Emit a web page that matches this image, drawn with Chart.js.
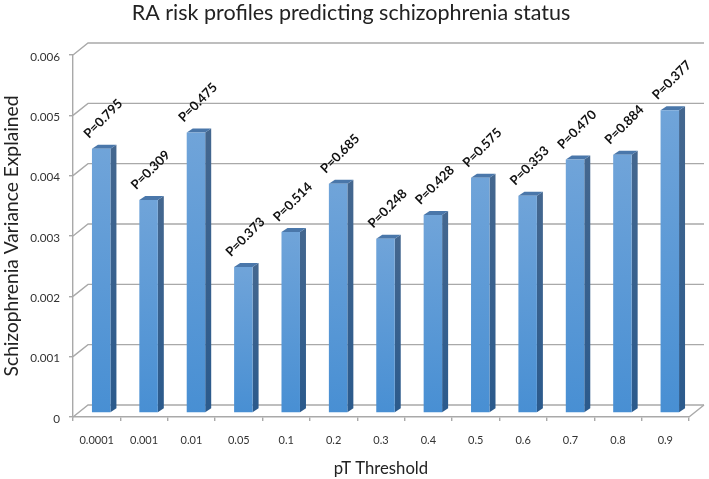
<!DOCTYPE html>
<html>
<head>
<meta charset="utf-8">
<style>
  html, body { margin: 0; padding: 0; background: #fff; }
  canvas { display: block; }
</style>
<script src="https://cdn.jsdelivr.net/npm/chart.js@4"></script>
</head>
<body>
<canvas id="chart" width="709" height="479"></canvas>
<script>
const thresholds = ['0.0001', '0.001', '0.01', '0.05', '0.1', '0.2', '0.3', '0.4', '0.5', '0.6', '0.7', '0.8', '0.9'];
const variance = [0.00438, 0.00353, 0.00465, 0.00242, 0.003, 0.0038, 0.00289, 0.00328, 0.0039, 0.0036, 0.0042, 0.00428, 0.00502];
const pValues = ['P=0.795', 'P=0.309', 'P=0.475', 'P=0.373', 'P=0.514', 'P=0.685', 'P=0.248', 'P=0.428', 'P=0.575', 'P=0.353', 'P=0.470', 'P=0.884', 'P=0.377'];
const yTicks = [0, 0.001, 0.002, 0.003, 0.004, 0.005, 0.006];
const chartTitle = 'RA risk profiles predicting schizophrenia status';

const FONT = 'Lato, "Open Sans", sans-serif';
const gridColor = '#a9a9a9';

// depth of the fake 3D box and of the bars
const wall = { dx: 15, dy: -12 };
const barDepth = { dx: 6, dy: -4 };
const barShift = { dx: 4.5, dy: -4 };

// back wall lines and floor edge
const wallPlugin = {
  id: 'wall',
  beforeDatasetsDraw(chart) {
    const { ctx, chartArea } = chart;
    const y = chart.scales.y;
    ctx.save();
    ctx.strokeStyle = gridColor;
    ctx.lineWidth = 1.4;
    yTicks.forEach(t => {
      const py = y.getPixelForValue(t);
      ctx.beginPath();
      ctx.moveTo(chartArea.left, py);
      ctx.lineTo(chartArea.left + wall.dx, py + wall.dy);
      ctx.lineTo(chartArea.right + wall.dx, py + wall.dy);
      ctx.stroke();
    });
    const py0 = y.getPixelForValue(0);
    ctx.beginPath();
    ctx.moveTo(chartArea.right, py0);
    ctx.lineTo(chartArea.right + wall.dx, py0 + wall.dy);
    ctx.stroke();
    ctx.restore();
  },
};

// side and top faces, bars are moved back a little onto the floor
const barsPlugin = {
  id: 'bars3d',
  beforeDatasetDraw(chart, args) {
    const { ctx } = chart;
    ctx.save();
    ctx.translate(barShift.dx, barShift.dy);
    args.meta.data.forEach(bar => {
      const right = bar.x + bar.width / 2;
      const left = bar.x - bar.width / 2;
      const side = ctx.createLinearGradient(0, bar.y, 0, bar.base);
      side.addColorStop(0, '#44678f');
      side.addColorStop(1, '#2b5a8c');
      ctx.fillStyle = side;
      ctx.beginPath();
      ctx.moveTo(right, bar.y);
      ctx.lineTo(right + barDepth.dx, bar.y + barDepth.dy);
      ctx.lineTo(right + barDepth.dx, bar.base + barDepth.dy);
      ctx.lineTo(right, bar.base);
      ctx.closePath();
      ctx.fill();
      ctx.fillStyle = '#4a77aa';
      ctx.beginPath();
      ctx.moveTo(left, bar.y);
      ctx.lineTo(left + barDepth.dx, bar.y + barDepth.dy);
      ctx.lineTo(right + barDepth.dx, bar.y + barDepth.dy);
      ctx.lineTo(right, bar.y);
      ctx.closePath();
      ctx.fill();
    });
  },
  afterDatasetDraw(chart) {
    chart.ctx.restore();
  },
  afterDatasetsDraw(chart) {
    const { ctx } = chart;
    const meta = chart.getDatasetMeta(0);
    ctx.save();
    ctx.font = 'bold 13px ' + FONT;
    ctx.fillStyle = '#111';
    ctx.textAlign = 'center';
    ctx.textBaseline = 'middle';
    meta.data.forEach((bar, i) => {
      ctx.save();
      ctx.translate(bar.x + barShift.dx + 2, bar.y + barShift.dy - 30);
      ctx.rotate(-45 * Math.PI / 180);
      ctx.fillText(pValues[i], 0, 0);
      ctx.restore();
    });
    // title sits a bit right of the plot centre, so it is placed by hand
    ctx.font = '21.5px ' + FONT;
    ctx.fillStyle = '#222';
    ctx.fillText(chartTitle, 351, 13);
    ctx.restore();
  },
};

new Chart(document.getElementById('chart'), {
  type: 'bar',
  data: {
    labels: thresholds,
    datasets: [{
      data: variance,
      clip: false,
      barPercentage: 0.39,
      categoryPercentage: 1,
      backgroundColor(context) {
        const { chart, parsed } = context;
        if (!chart.chartArea || !parsed) return '#5b9bd5';
        const y = chart.scales.y;
        const g = chart.ctx.createLinearGradient(0, y.getPixelForValue(parsed.y), 0, y.getPixelForValue(0));
        g.addColorStop(0, '#70a4d9');
        g.addColorStop(1, '#488fd3');
        return g;
      },
    }],
  },
  options: {
    responsive: false,
    animation: false,
    layout: { padding: { top: 55, right: 20, bottom: 0, left: 0 } },
    plugins: {
      legend: { display: false },
      tooltip: { enabled: false },
      title: { display: false },
    },
    scales: {
      x: {
        afterFit(scale) { scale.height = 62; },
        grid: { drawOnChartArea: false, color: gridColor, tickLength: 4, lineWidth: 1.4 },
        border: { color: gridColor, width: 1.4 },
        ticks: { color: '#333', font: { family: FONT, size: 11 }, padding: 13, maxRotation: 0, autoSkip: false },
        title: {
          display: true,
          text: 'pT Threshold',
          color: '#222',
          font: { family: FONT, size: 16.7, weight: 'normal' },
          padding: { top: 8, bottom: 0 },
        },
      },
      y: {
        min: 0,
        max: 0.006,
        afterFit(scale) { scale.width = 73; },
        afterBuildTicks(scale) { scale.ticks = yTicks.map(value => ({ value })); },
        grid: { drawOnChartArea: false, color: gridColor, tickLength: 4, lineWidth: 1.4 },
        border: { color: gridColor, width: 1.4 },
        ticks: {
          color: '#333',
          font: { family: FONT, size: 11.7 },
          padding: 9,
          labelOffset: 2,
          callback: v => (v === 0 ? '0' : v.toFixed(3)),
        },
        title: {
          display: true,
          text: 'Schizophrenia Variance Explained',
          color: '#222',
          font: { family: FONT, size: 19.2, weight: 'normal' },
          padding: { top: 0, bottom: 0 },
        },
      },
    },
  },
  plugins: [wallPlugin, barsPlugin],
});
</script>
</body>
</html>
